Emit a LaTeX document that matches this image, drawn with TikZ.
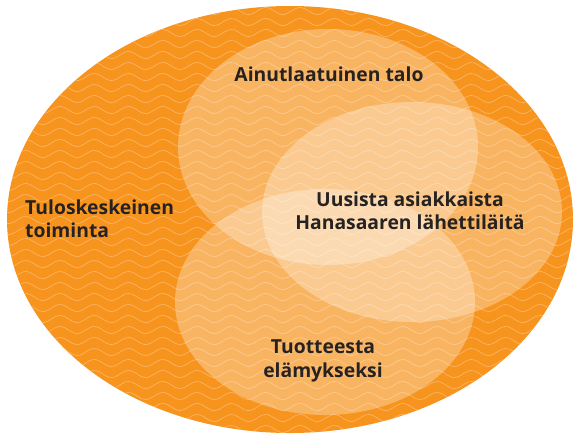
\documentclass[tikz,border=0pt]{standalone}
\usepackage{fontspec}
\setmainfont{Open Sans}
\usepackage{tikz}
\usetikzlibrary{positioning}
\usepackage{xcolor}
\definecolor{hanaorange}{RGB}{247, 148, 30}
\definecolor{waveline}{RGB}{250, 180, 100}
\definecolor{labeltext}{RGB}{38, 34, 34}

\begin{document}
\begin{tikzpicture}[
    x=0.03cm, y=-0.03cm,
    font=\bfseries\fontsize{16.5}{20}\selectfont,
    label/.style={text=labeltext, align=center, inner sep=0pt},
    bubble/.style={fill=white, fill opacity=0.3},
    wave/.style={waveline, line width=0.6pt},
]

\useasboundingbox (0,0) rectangle (573,434);

% ===== Outer ellipse with wavy texture =====
\fill[hanaorange] (290,219.5) ellipse [x radius=283, y radius=213.5];

\begin{scope}
    \clip (290,219.5) ellipse [x radius=283, y radius=213.5];
    \foreach \yy in {0,11,...,440} {
        \draw[wave] plot[domain=0:580, samples=240]
            (\x, {\yy + 3.5*sin(10.5*\x)});
    }
\end{scope}

% ===== Three overlapping bubbles =====
\fill[bubble] (328,147) ellipse [x radius=150, y radius=118];
\fill[bubble] (412,212) ellipse [x radius=150, y radius=110];
\fill[bubble] (325,302) ellipse [x radius=150, y radius=113];

% ===== Labels =====
\node[label] (talo) at (329,74) {Ainutlaatuinen talo};
\node[label] (asiakkaat) at (410,211) {Uusista asiakkaista\\Hanasaaren lähettiläitä};
\node[label] (elamys) at (323,361) {Tuotteesta\\elämykseksi};
\node[label, align=left, anchor=west] (tulos) at (25,219) {Tuloskeskeinen\\toiminta};

\end{tikzpicture}
\end{document}
